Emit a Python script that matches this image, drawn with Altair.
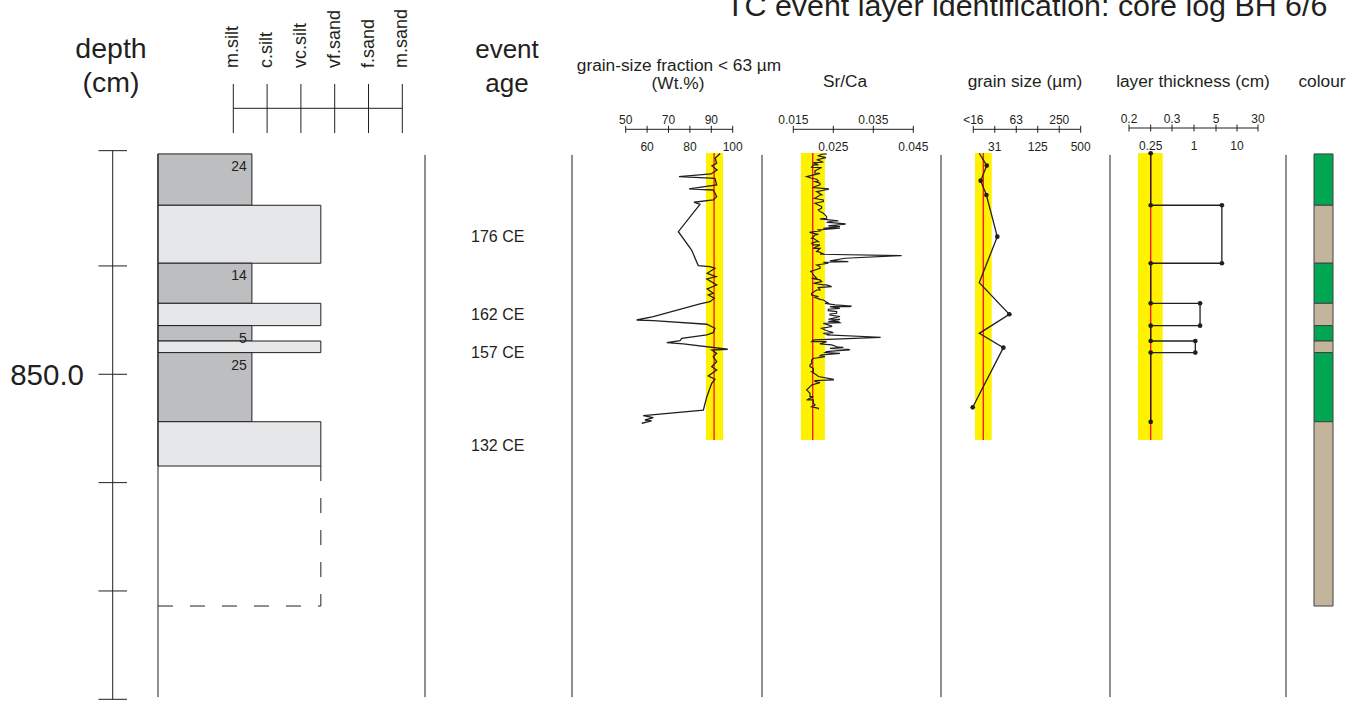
import altair as alt
import pandas as pd

FONT = "Liberation Sans"
INK = "#231f20"

# ---------------- data ----------------
# depth axis (cm)
depth_ticks = [829.36, 840, 850, 860, 870, 880]
depth_labelled = [850.0]
panel_top, panel_bottom = 829.75, 879.8

# lithology column
lith_top = [829.66, 834.40, 839.75, 843.45, 845.51, 846.93, 848.00, 854.38]
lith_bottom = [834.40, 839.75, 843.45, 845.51, 846.93, 848.00, 854.38, 858.47]
lith_kind = ["mud", "event", "mud", "event", "mud", "event", "mud", "event"]
lith_grain = [0.55, 2.59, 0.55, 2.59, 0.55, 2.59, 0.55, 2.59]
lith_label = ["24", "", "14", "", "5", "", "25", ""]
gap_top, gap_bottom = 858.47, 871.39
col_base = -2.23
grain_classes = ["m.silt", "c.silt", "vc.silt", "vf.sand", "f.sand", "m.sand"]

# event ages
event_ages = ["176 CE", "162 CE", "157 CE", "132 CE"]
event_depths = [837.3, 844.5, 848.0, 856.6]

# grain-size fraction < 63 um (Wt.%)
wt_depth = [829.62, 830.06, 830.52, 830.77, 831.14, 831.51, 831.76, 831.91, 832.53, 832.89,
            832.99, 833.61, 833.91, 834.12, 834.31, 836.84, 838.53, 839.97, 840.07, 840.21,
            840.68, 840.99, 841.20, 841.76, 842.13, 842.52, 842.68, 842.98, 843.30, 843.51,
            844.68, 844.99, 845.05, 845.38, 845.75, 846.16, 846.37, 846.68, 846.90, 847.08,
            847.20, 847.69, 847.76, 848.06, 848.38, 848.84, 849.30, 849.60, 850.16, 850.46,
            850.83, 852.07, 853.30, 853.82, 854.01, 854.22, 854.31, 854.52]
wt_value = [94.1, 91.8, 92.5, 90.3, 92.7, 89.9, 74.9, 91.7, 92.5, 79.6,
            90.9, 92.5, 90.9, 81.9, 84.7, 74.6, 80.8, 83.9, 89.4, 91.7,
            88.1, 92.2, 87.9, 92.5, 88.1, 90.9, 88.6, 91.4, 89.4, 84.7,
            62.9, 55.1, 62.9, 87.9, 91.7, 90.9, 87.9, 76.2, 75.4, 69.2,
            76.9, 97.7, 90.2, 92.5, 90.9, 92.5, 90.2, 92.5, 88.6, 91.7,
            90.2, 87.9, 86.3, 58.2, 62.9, 59.0, 62.1, 57.5]
wt_band = [87.5, 95.5]
wt_mean = 91.3
wt_ticks = [50, 60, 70, 80, 90, 100]
wt_tick_labels = ["50", "60", "70", "80", "90", "100"]

# Sr/Ca  (two readings of the same dense trace, merged by depth)
sr_depth_a = [829.69, 830.00, 830.21, 830.43, 830.68, 830.92, 831.23, 831.45, 831.91, 832.15,
              832.52, 832.77, 832.89, 833.14, 833.45, 833.75, 833.91, 834.21, 834.52, 834.83,
              835.14, 835.45, 835.66, 835.85, 835.97, 836.15, 836.28, 836.37, 836.52, 836.77,
              836.89, 837.08, 837.45, 837.75, 837.91, 838.06, 838.37, 838.68, 838.92, 839.05,
              839.54, 839.66, 839.91, 840.06, 840.37, 840.52, 840.83, 841.14, 841.29, 841.60,
              841.75, 842.00, 842.22, 842.68, 842.90, 843.08, 843.45, 843.70, 843.76, 843.91,
              844.13, 844.37, 844.53, 844.93, 845.14, 845.24, 845.30, 845.54, 845.76, 846.07,
              846.22, 846.37, 846.59, 846.84, 846.99, 847.20, 847.51, 847.60, 847.76, 847.91,
              848.07, 848.31, 848.37, 848.53, 848.68, 849.14, 849.45, 849.76, 850.07, 850.47,
              850.59, 850.77, 850.99, 851.45, 851.76, 852.07, 852.37, 852.68, 852.99, 853.24]
sr_value_a = [0.02208, 0.02317, 0.02100, 0.02250, 0.02000, 0.02208, 0.02042, 0.02167, 0.01958, 0.02125,
              0.02167, 0.02000, 0.02375, 0.02083, 0.02167, 0.02000, 0.02250, 0.02042, 0.02208, 0.02125,
              0.02250, 0.02333, 0.02167, 0.02500, 0.02333, 0.02792, 0.02417, 0.02667, 0.02250, 0.02167,
              0.01917, 0.02125, 0.02000, 0.02083, 0.01958, 0.02167, 0.02000, 0.02125, 0.02167, 0.04167,
              0.02417, 0.02250, 0.02083, 0.02167, 0.02042, 0.01917, 0.02000, 0.01958, 0.02167, 0.02000,
              0.02250, 0.02125, 0.02083, 0.01958, 0.02042, 0.02167, 0.02292, 0.02958, 0.02417, 0.02667,
              0.02375, 0.02583, 0.02417, 0.02667, 0.02375, 0.02667, 0.02250, 0.02458, 0.02208, 0.02417,
              0.02250, 0.02417, 0.03667, 0.02000, 0.02333, 0.02167, 0.02750, 0.02417, 0.02917, 0.02333,
              0.02667, 0.02167, 0.02292, 0.02000, 0.01958, 0.01917, 0.02000, 0.01958, 0.02083, 0.02500,
              0.02042, 0.02167, 0.01958, 0.01833, 0.01917, 0.02000, 0.01833, 0.02000, 0.01958, 0.02125]
sr_depth_b = [829.66, 829.84, 830.06, 830.21, 830.46, 830.67, 830.89, 831.14, 831.44, 831.75,
              832.00, 832.21, 832.37, 832.67, 832.92, 833.14, 833.44, 833.75, 834.06, 834.37,
              834.67, 834.98, 835.29, 835.60, 835.84, 836.00, 836.12, 836.31, 836.52, 836.67,
              836.92, 837.14, 837.44, 837.75, 838.06, 838.37, 838.67, 838.89, 839.04, 839.29,
              839.60, 839.75, 839.99, 840.21, 840.52, 840.83, 841.14, 841.44, 841.75, 841.91,
              842.21, 842.52, 842.83, 843.14, 843.44, 843.60, 843.75, 844.00, 844.21, 844.43,
              844.67, 844.92, 845.14, 845.29, 845.60, 845.91, 846.15, 846.37, 846.58, 846.83,
              846.98, 847.29, 847.50, 847.69, 847.84, 848.00, 848.21, 848.52, 848.98, 849.29,
              849.75, 850.21, 850.52, 850.67, 851.14, 851.60, 852.06, 852.37, 852.83, 853.14]
sr_value_b = [0.02334, 0.02126, 0.02251, 0.02084, 0.02001, 0.02126, 0.01959, 0.02084, 0.02043, 0.01834,
              0.02084, 0.02043, 0.02168, 0.02043, 0.02376, 0.02084, 0.02209, 0.02043, 0.02251, 0.02126,
              0.02209, 0.02168, 0.02293, 0.02334, 0.02626, 0.02459, 0.02793, 0.02376, 0.02668, 0.02126,
              0.01918, 0.02043, 0.01959, 0.02126, 0.02001, 0.02168, 0.02084, 0.02251, 0.04209, 0.02793,
              0.02876, 0.02376, 0.02126, 0.02168, 0.01959, 0.02001, 0.02084, 0.02209, 0.02334, 0.02459,
              0.02168, 0.01959, 0.02126, 0.02251, 0.02376, 0.02543, 0.02918, 0.02376, 0.02584, 0.02418,
              0.02668, 0.02376, 0.02626, 0.02334, 0.02459, 0.02293, 0.02501, 0.02334, 0.03668, 0.02043,
              0.01959, 0.02459, 0.02626, 0.02876, 0.02543, 0.02293, 0.02209, 0.02043, 0.01959, 0.01918,
              0.02001, 0.02126, 0.02501, 0.02043, 0.01918, 0.01876, 0.01918, 0.02001, 0.02043, 0.02126]
sr_band = [0.0169, 0.0229]
sr_mean = 0.01985
sr_ticks = [0.015, 0.025, 0.035, 0.045]
sr_tick_labels = ["0.015", "0.025", "0.035", "0.045"]

# grain size (um)
gs_depth = [829.60, 830.74, 832.13, 833.45, 837.30, 841.54, 844.46, 846.22, 847.54, 853.05]
gs_value = [19.4, 24.7, 20.3, 24.4, 34.7, 19.4, 51.2, 19.4, 42.2, 15.7]
gs_dot = [False, True, True, True, True, False, True, False, True, True]
gs_band = [16.9, 29.0]
gs_mean = 22.1
gs_ticks = [16, 32, 64, 128, 256, 512]
gs_tick_labels = ["<16", "31", "63", "125", "250", "500"]

# layer thickness (cm)
lt_depth = [829.60, 834.40, 834.40, 839.75, 839.75, 843.45, 843.45, 845.51, 845.51,
            846.93, 846.93, 848.00, 848.00, 854.40]
lt_value = [0.25, 0.25, 6.4, 6.4, 0.25, 0.25, 2.1, 2.1, 0.25, 0.25, 1.24, 1.24, 0.25, 0.25]
lt_band = [0.2207, 0.2782]
lt_mean = 0.25
lt_ticks = [0.2, 0.25, 0.3, 1, 5, 10, 30]
lt_tick_labels = ["0.2", "0.25", "0.3", "1", "5", "10", "30"]

# colour column
col_top = [829.66, 834.40, 839.75, 843.45, 845.51, 846.93, 848.00, 854.38]
col_bottom = [834.40, 839.75, 843.45, 845.51, 846.93, 848.00, 854.38, 871.39]
col_kind = ["green", "tan", "green", "tan", "green", "tan", "green", "tan"]

band_top, band_bottom = 829.57, 856.06

# ---------------- scales ----------------
YS = alt.Scale(domain=[830, 880], range=[157.6, 699.3], nice=False, zero=False)
S_LITH = alt.Scale(domain=[0, 5], range=[233.3, 402.3], nice=False, zero=False)
S_WT = alt.Scale(domain=[50, 100], range=[625.7, 732.7], nice=False, zero=False)
S_SR = alt.Scale(domain=[0.015, 0.045], range=[793.3, 913.3], nice=False, zero=False)
S_GS = alt.Scale(type="log", base=2, domain=[16, 512], range=[973.3, 1080.7], nice=False)
S_LT = alt.Scale(domain=lt_ticks, range=[1129, 1150.7, 1172, 1194, 1216, 1237, 1258],
                 nice=False, zero=False)


def Y(field):
    return alt.Y(f"{field}:Q", scale=YS, axis=None)


def X(field, scale):
    return alt.X(f"{field}:Q", scale=scale, axis=None)


def txt(s, x, y, size, align="center", baseline="alphabetic", angle=0):
    return alt.Chart(pd.DataFrame({"t": [s]})).mark_text(
        font=FONT, fontSize=size, align=align, baseline=baseline, color=INK, angle=angle
    ).encode(x=alt.value(x), y=alt.value(y), text="t:N")


def separator(x, d0, d1):
    return alt.Chart(pd.DataFrame({"a": [d0], "b": [d1]})).mark_rule(
        color=INK, strokeWidth=1).encode(x=alt.value(x), y=Y("a"), y2="b:Q")


def header_scale(scale, ticks, labels, yline=129.3):
    df = pd.DataFrame({"v": ticks, "lab": labels, "i": list(range(len(ticks)))})
    line = alt.Chart(pd.DataFrame({"a": [ticks[0]], "b": [ticks[-1]]})).mark_rule(
        color=INK, strokeWidth=1).encode(x=X("a", scale), x2="b:Q", y=alt.value(yline))
    tk = alt.Chart(df).mark_rule(color=INK, strokeWidth=1).encode(
        x=X("v", scale), y=alt.value(yline - 3.5), y2=alt.value(yline + 3.5))
    top = alt.Chart(df[df["i"] % 2 == 0]).mark_text(font=FONT, fontSize=12, color=INK).encode(
        x=X("v", scale), y=alt.value(yline - 9), text="lab:N")
    bot = alt.Chart(df[df["i"] % 2 == 1]).mark_text(font=FONT, fontSize=12, color=INK).encode(
        x=X("v", scale), y=alt.value(yline + 18), text="lab:N")
    return [line, tk, top, bot]


def band(scale, lo, hi, mean):
    b = alt.Chart(pd.DataFrame({"lo": [lo], "hi": [hi], "a": [band_top], "b": [band_bottom]})).mark_rect(
        color="#fff200").encode(x=X("lo", scale), x2="hi:Q", y=Y("a"), y2="b:Q")
    r = alt.Chart(pd.DataFrame({"m": [mean], "a": [band_top], "b": [band_bottom]})).mark_rule(
        color="#ff1a1a", strokeWidth=1.4).encode(x=X("m", scale), y=Y("a"), y2="b:Q")
    return [b, r]


layers = []

# title and headers
layers.append(txt("TC event layer identification: core log BH 6/6", 726, 16, 30.4, align="left"))
layers.append(txt("depth", 111, 58, 28.5))
layers.append(txt("(cm)", 111, 92, 28.5))
layers.append(txt("event", 507, 58, 26))
layers.append(txt("age", 507, 92, 26))
layers.append(txt("grain-size fraction < 63 µm", 679, 71, 17.3))
layers.append(txt("(Wt.%)", 678, 88.5, 17.3))
layers.append(txt("Sr/Ca", 845, 86.7, 17.3))
layers.append(txt("grain size (µm)", 1025, 86.7, 17.3))
layers.append(txt("layer thickness (cm)", 1193, 86.7, 17.3))
layers.append(txt("colour", 1322, 86.7, 17.3))

# depth axis
dt = pd.DataFrame({"depth": depth_ticks})
layers.append(alt.Chart(pd.DataFrame({"a": [depth_ticks[0]], "b": [depth_ticks[-1]]})).mark_rule(
    color=INK, strokeWidth=1).encode(x=alt.value(112.7), y=Y("a"), y2="b:Q"))
layers.append(alt.Chart(dt).mark_rule(color=INK, strokeWidth=1).encode(
    x=alt.value(98.5), x2=alt.value(127), y=Y("depth")))
layers.append(alt.Chart(pd.DataFrame({"depth": depth_labelled})).mark_text(
    font=FONT, fontSize=29.5, align="right", baseline="middle", color=INK, dy=2).encode(
    x=alt.value(84), y=Y("depth"), text=alt.Text("depth:Q", format=".1f")))

# lithology grain-class header
gc = pd.DataFrame({"g": list(range(len(grain_classes))), "name": grain_classes})
layers.append(alt.Chart(pd.DataFrame({"a": [0], "b": [5]})).mark_rule(color=INK, strokeWidth=1).encode(
    x=X("a", S_LITH), x2="b:Q", y=alt.value(108.3)))
layers.append(alt.Chart(gc).mark_rule(color=INK, strokeWidth=1).encode(
    x=X("g", S_LITH), y=alt.value(84), y2=alt.value(133)))
layers.append(alt.Chart(gc).mark_text(font=FONT, fontSize=18, angle=270, align="left",
                                      baseline="middle", color=INK).encode(
    x=X("g", S_LITH), y=alt.value(68), text="name:N"))

# lithology column
lith = pd.DataFrame({"top": lith_top, "bottom": lith_bottom, "kind": lith_kind,
                     "x1": lith_grain, "lab": lith_label})
lith["x0"] = col_base
layers.append(alt.Chart(lith).mark_rect(stroke=INK, strokeWidth=1).encode(
    x=X("x0", S_LITH), x2="x1:Q", y=Y("top"), y2="bottom:Q",
    color=alt.Color("kind:N", scale=alt.Scale(domain=["mud", "event"], range=["#bcbec0", "#e6e7e8"]),
                    legend=None)))
layers.append(alt.Chart(lith[lith["lab"] != ""]).mark_text(
    font=FONT, fontSize=14, align="right", baseline="top", dx=-5, dy=6, color=INK).encode(
    x=X("x1", S_LITH), y=Y("top"), text="lab:N"))
gap = pd.DataFrame({"x0": [col_base], "x1": [lith_grain[-1]], "a": [gap_top], "b": [gap_bottom]})
layers.append(alt.Chart(gap).mark_rule(color=INK, strokeWidth=1, strokeDash=[15, 17]).encode(
    x=X("x1", S_LITH), y=Y("a"), y2="b:Q"))
layers.append(alt.Chart(gap).mark_rule(color=INK, strokeWidth=1, strokeDash=[15, 17]).encode(
    x=X("x0", S_LITH), x2="x1:Q", y=Y("b")))

# separators
layers.append(separator(158, lith_top[0], panel_bottom))
for sx in [425, 572, 762, 941, 1110, 1286]:
    layers.append(separator(sx, panel_top, panel_bottom))

# event ages
layers.append(alt.Chart(pd.DataFrame({"depth": event_depths, "age": event_ages})).mark_text(
    font=FONT, fontSize=16, align="left", baseline="middle", color=INK).encode(
    x=alt.value(471), y=Y("depth"), text="age:N"))

# grain-size fraction panel
layers += header_scale(S_WT, wt_ticks, wt_tick_labels)
layers += band(S_WT, wt_band[0], wt_band[1], wt_mean)
wt = pd.DataFrame({"depth": wt_depth, "v": wt_value, "i": list(range(len(wt_value)))})
layers.append(alt.Chart(wt).mark_line(color=INK, strokeWidth=1.3).encode(
    x=X("v", S_WT), y=Y("depth"), order="i:Q"))

# Sr/Ca panel
layers += header_scale(S_SR, sr_ticks, sr_tick_labels)
layers += band(S_SR, sr_band[0], sr_band[1], sr_mean)
sr = pd.concat([pd.DataFrame({"depth": sr_depth_a, "v": sr_value_a}),
                pd.DataFrame({"depth": sr_depth_b, "v": sr_value_b})]).sort_values("depth")
layers.append(alt.Chart(sr).mark_line(color=INK, strokeWidth=1.2).encode(
    x=X("v", S_SR), y=Y("depth"), order="depth:Q"))

# grain size panel
layers += header_scale(S_GS, gs_ticks, gs_tick_labels)
layers += band(S_GS, gs_band[0], gs_band[1], gs_mean)
gs = pd.DataFrame({"depth": gs_depth, "v": gs_value, "has_dot": gs_dot, "i": list(range(len(gs_value)))})
layers.append(alt.Chart(gs).mark_line(color=INK, strokeWidth=1.3).encode(
    x=X("v", S_GS), y=Y("depth"), order="i:Q"))
layers.append(alt.Chart(gs[gs["has_dot"]]).mark_circle(color=INK, size=22, opacity=1).encode(
    x=X("v", S_GS), y=Y("depth")))

# layer thickness panel
layers += header_scale(S_LT, lt_ticks, lt_tick_labels, yline=128)
layers += band(S_LT, lt_band[0], lt_band[1], lt_mean)
lt = pd.DataFrame({"depth": lt_depth, "v": lt_value, "i": list(range(len(lt_value)))})
layers.append(alt.Chart(lt).mark_line(color=INK, strokeWidth=1.3).encode(
    x=X("v", S_LT), y=Y("depth"), order="i:Q"))
layers.append(alt.Chart(lt).mark_circle(color=INK, size=22, opacity=1).encode(
    x=X("v", S_LT), y=Y("depth")))

# colour column
cc = pd.DataFrame({"top": col_top, "bottom": col_bottom, "kind": col_kind})
layers.append(alt.Chart(cc).mark_rect(stroke="#414042", strokeWidth=1).encode(
    x=alt.value(1314), x2=alt.value(1333), y=Y("top"), y2="bottom:Q",
    color=alt.Color("kind:N", scale=alt.Scale(domain=["green", "tan"], range=["#00a651", "#c2b59b"]),
                    legend=None)))

chart = alt.layer(*layers).resolve_scale(x="independent", color="independent").properties(
    width=1353, height=700, padding=0, autosize="none"
).configure_view(stroke=None)

chart.save("out.html", embed_options={"renderer": "svg", "actions": False})
